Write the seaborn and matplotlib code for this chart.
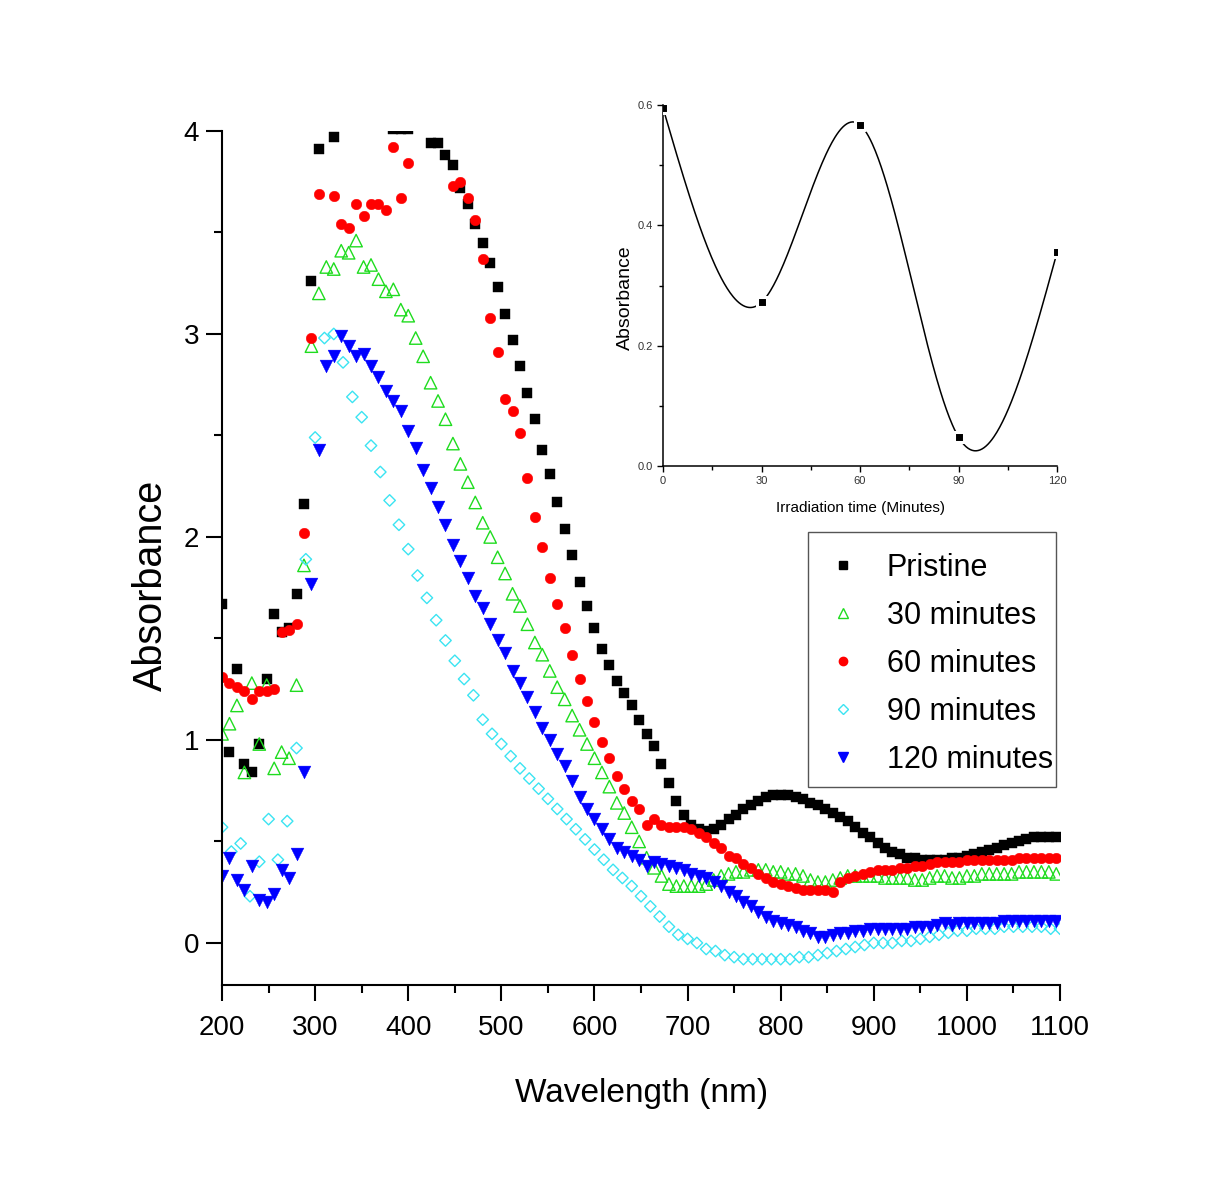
import numpy as np
import pandas as pd
import seaborn as sns
import matplotlib.pyplot as plt
from matplotlib.lines import Line2D
from matplotlib.patches import Rectangle
from matplotlib.ticker import MultipleLocator

nan = np.nan

# Longitudes de onda (muestreo cada 8 nm, la serie de 90 min cada 10 nm)
wl = list(range(200, 1097, 8))
wl_90 = list(range(200, 1101, 10))

pristine = [
    1.67, 0.94, 1.35, 0.88, 0.84, 0.98, 1.30, 1.62, 1.53, 1.55,   # 200-272
    1.72, 2.16, 3.26, 3.91, nan, 3.97, nan, nan, nan, nan,        # 280-352
    nan, nan, nan, 4.01, 4.01, 4.01, nan, 4.03, 3.94, 3.94,       # 360-432
    3.88, 3.83, 3.72, 3.64, 3.54, 3.45, 3.35, 3.23, 3.10, 2.97,   # 440-512
    2.84, 2.71, 2.58, 2.43, 2.31, 2.17, 2.04, 1.91, 1.78, 1.66,   # 520-592
    1.55, 1.45, 1.37, 1.29, 1.23, 1.17, 1.10, 1.03, 0.97, 0.88,   # 600-672
    0.79, 0.70, 0.63, 0.58, 0.56, 0.55, 0.56, 0.58, 0.61, 0.63,   # 680-752
    0.66, 0.68, 0.70, 0.72, 0.73, 0.73, 0.73, 0.72, 0.71, 0.69,   # 760-832
    0.68, 0.66, 0.64, 0.62, 0.60, 0.57, 0.54, 0.52, 0.49, 0.47,   # 840-912
    0.45, 0.44, 0.42, 0.42, 0.41, 0.41, 0.41, 0.41, 0.42, 0.42,   # 920-992
    0.43, 0.44, 0.45, 0.46, 0.47, 0.48, 0.49, 0.50, 0.51, 0.52,   # 1000-1072
    0.52, 0.52, 0.52,                                             # 1080-1096
]

min30 = [
    1.03, 1.08, 1.17, 0.84, 1.28, 0.98, 1.27, 0.86, 0.94, 0.91,
    1.27, 1.86, 2.94, 3.20, 3.33, 3.32, 3.41, 3.40, 3.46, 3.33,
    3.34, 3.27, 3.21, 3.22, 3.12, 3.09, 2.98, 2.89, 2.76, 2.67,
    2.58, 2.46, 2.36, 2.27, 2.17, 2.07, 2.00, 1.90, 1.82, 1.72,
    1.66, 1.57, 1.48, 1.42, 1.34, 1.26, 1.20, 1.12, 1.05, 0.98,
    0.91, 0.84, 0.77, 0.69, 0.64, 0.57, 0.50, 0.42, 0.37, 0.33,
    0.29, 0.28, 0.28, 0.28, 0.28, 0.29, 0.31, 0.33, 0.34, 0.35,
    0.35, 0.36, 0.36, 0.36, 0.35, 0.35, 0.34, 0.34, 0.33, 0.31,
    0.30, 0.30, 0.31, 0.32, 0.33, 0.33, 0.33, 0.33, 0.33, 0.32,
    0.32, 0.32, 0.32, 0.31, 0.31, 0.32, 0.33, 0.33, 0.32, 0.32,
    0.33, 0.33, 0.34, 0.34, 0.34, 0.34, 0.34, 0.35, 0.35, 0.35,
    0.35, 0.35, 0.34,
]

min60 = [
    1.31, 1.28, 1.26, 1.24, 1.20, 1.24, 1.24, 1.25, 1.53, 1.54,
    1.57, 2.02, 2.98, 3.69, nan, 3.68, 3.54, 3.52, 3.64, 3.58,
    3.64, 3.64, 3.61, 3.92, 3.67, 3.84, nan, nan, nan, nan,
    nan, 3.73, 3.75, 3.67, 3.56, 3.37, 3.08, 2.91, 2.68, 2.62,
    2.51, 2.29, 2.10, 1.95, 1.80, 1.67, 1.55, 1.42, 1.30, 1.19,
    1.09, 0.99, 0.91, 0.82, 0.76, 0.70, 0.66, 0.58, 0.61, 0.58,
    0.57, 0.57, 0.57, 0.56, 0.54, 0.52, 0.49, 0.47, 0.43, 0.42,
    0.39, 0.37, 0.34, 0.32, 0.30, 0.29, 0.28, 0.27, 0.26, 0.26,
    0.26, 0.26, 0.25, 0.30, 0.32, 0.33, 0.34, 0.35, 0.36, 0.36,
    0.36, 0.37, 0.37, 0.38, 0.38, 0.39, 0.40, 0.40, 0.40, 0.40,
    0.41, 0.41, 0.41, 0.41, 0.41, 0.41, 0.41, 0.42, 0.42, 0.42,
    0.42, 0.42, 0.42,
]

min90 = [
    0.57, 0.45, 0.49, 0.23, 0.40, 0.61, 0.41, 0.60, 0.96, 1.89,   # 200-290
    2.49, 2.98, 3.00, 2.86, 2.69, 2.59, 2.45, 2.32, 2.18, 2.06,   # 300-390
    1.94, 1.81, 1.70, 1.59, 1.49, 1.39, 1.30, 1.22, 1.10, 1.03,   # 400-490
    0.98, 0.92, 0.86, 0.81, 0.76, 0.71, 0.66, 0.61, 0.56, 0.51,   # 500-590
    0.46, 0.41, 0.36, 0.32, 0.28, 0.23, 0.18, 0.13, 0.08, 0.04,   # 600-690
    0.02, 0.00, -0.03, -0.04, -0.06, -0.07, -0.08, -0.08, -0.08, -0.08,
    -0.08, -0.08, -0.07, -0.07, -0.06, -0.05, -0.04, -0.03, -0.02, -0.01,
    0.00, 0.00, 0.00, 0.01, 0.01, 0.02, 0.03, 0.04, 0.05, 0.06,
    0.06, 0.07, 0.07, 0.07, 0.08, 0.08, 0.08, 0.08, 0.08, 0.07,
    0.07,
]

min120 = [
    0.33, 0.42, 0.31, 0.26, 0.38, 0.21, 0.20, 0.24, 0.36, 0.32,
    0.44, 0.84, 1.77, 2.43, 2.84, 2.89, 2.99, 2.94, 2.89, 2.90,
    2.84, 2.79, 2.72, 2.67, 2.62, 2.52, 2.44, 2.33, 2.24, 2.15,
    2.06, 1.96, 1.88, 1.80, 1.71, 1.65, 1.57, 1.49, 1.43, 1.34,
    1.28, 1.21, 1.14, 1.06, 1.00, 0.93, 0.87, 0.80, 0.72, 0.66,
    0.61, 0.56, 0.51, 0.47, 0.45, 0.43, 0.41, 0.38, 0.40, 0.39,
    0.38, 0.37, 0.36, 0.34, 0.33, 0.32, 0.30, 0.28, 0.25, 0.23,
    0.20, 0.18, 0.15, 0.13, 0.11, 0.10, 0.09, 0.08, 0.06, 0.05,
    0.03, 0.03, 0.04, 0.05, 0.05, 0.06, 0.06, 0.07, 0.07, 0.07,
    0.07, 0.07, 0.07, 0.08, 0.08, 0.08, 0.09, 0.10, 0.09, 0.10,
    0.10, 0.10, 0.10, 0.10, 0.10, 0.11, 0.11, 0.11, 0.11, 0.11,
    0.11, 0.11, 0.11,
]

# Inset: absorbancia vs tiempo de irradiacion
t_irr = [0, 30, 60, 90, 120]
abs_irr = [0.595, 0.272, 0.567, 0.048, 0.355]

sns.set_theme(style="ticks")
plt.rcParams["font.family"] = ["Liberation Sans", "DejaVu Sans"]
plt.rcParams["axes.edgecolor"] = "black"
plt.rcParams["xtick.color"] = "black"
plt.rcParams["ytick.color"] = "black"
plt.rcParams["text.color"] = "black"
plt.rcParams["axes.labelcolor"] = "black"

fig = plt.figure(figsize=(12.26, 11.8), dpi=100)
fig.patch.set_facecolor("white")
ax = fig.add_axes([0.1811, 0.1653, 0.6835, 0.7237])

series = [
    ("Pristine", wl, pristine, "s", "#000000", True, 52),
    ("30 minutes", wl, min30, "^", "#1fdc1f", False, 80),
    ("60 minutes", wl, min60, "o", "#ff0000", True, 58),
    ("90 minutes", wl_90, min90, "D", "#3be4f2", False, 34),
    ("120 minutes", wl, min120, "v", "#0000ff", True, 85),
]

handles = []
for label, x, y, m, c, filled, s in series:
    d = pd.DataFrame({"wavelength": x, "absorbance": y}).dropna()
    if filled:
        sns.scatterplot(data=d, x="wavelength", y="absorbance", marker=m, s=s,
                        color=c, edgecolor=c, linewidth=0.3, ax=ax, legend=False)
        handles.append(Line2D([], [], ls="none", marker=m, color=c, mec=c,
                              ms={"s": 5.5, "o": 6, "v": 7.5}[m], label=label))
    else:
        sns.scatterplot(data=d, x="wavelength", y="absorbance", marker=m, s=s,
                        color=c, facecolor="none", edgecolor=c, linewidth=1.0,
                        ax=ax, legend=False)
        handles.append(Line2D([], [], ls="none", marker=m, color=c, mfc="none",
                              mec=c, mew=1.0, ms={"^": 7, "D": 4.8}[m], label=label))

ax.set_xlim(200, 1100)
ax.set_ylim(-0.207, 4.0)
ax.xaxis.set_major_locator(MultipleLocator(100))
ax.xaxis.set_minor_locator(MultipleLocator(50))
ax.yaxis.set_major_locator(MultipleLocator(1))
ax.yaxis.set_minor_locator(MultipleLocator(0.5))
ax.tick_params(which="major", direction="out", length=11.5, width=1.5, labelsize=20)
ax.tick_params(which="minor", direction="out", length=5.5, width=1.5)
ax.tick_params(axis="x", which="both", bottom=True, pad=10)
ax.tick_params(axis="y", which="both", left=True, pad=5)
sns.despine(ax=ax)
for sp in ["left", "bottom"]:
    ax.spines[sp].set_linewidth(1.5)
ax.set_facecolor("white")

ax.set_xlabel("Wavelength (nm)", fontsize=24)
ax.set_ylabel("Absorbance", fontsize=28.5)
ax.xaxis.set_label_coords(0.501, -0.109)
ax.yaxis.set_label_coords(-0.062, 0.468)

# Leyenda: marco dibujado aparte para fijar su tamaño
fig.add_artist(Rectangle((808 / 1226, 1 - 787 / 1180), 248 / 1226, 255 / 1180,
                         transform=fig.transFigure, facecolor="none",
                         edgecolor="#555555", linewidth=1.0))
fig.legend(handles=handles, loc="upper left", bbox_to_anchor=(823 / 1226, 1 - 553 / 1180),
           bbox_transform=fig.transFigure, borderaxespad=0, borderpad=0, fontsize=22,
           frameon=False, handlelength=1.3, handletextpad=0.78, labelspacing=0.59)

# Inset
axin = fig.add_axes([0.5408, 0.6051, 0.3214, 0.3059])
axin.set_facecolor("none")


def natural_cubic(xk, yk, xs):
    xk = np.asarray(xk, float)
    yk = np.asarray(yk, float)
    n = len(xk)
    h = np.diff(xk)
    A = np.zeros((n, n))
    r = np.zeros(n)
    A[0, 0] = A[-1, -1] = 1.0
    for i in range(1, n - 1):
        A[i, i - 1] = h[i - 1]
        A[i, i] = 2 * (h[i - 1] + h[i])
        A[i, i + 1] = h[i]
        r[i] = 3 * ((yk[i + 1] - yk[i]) / h[i] - (yk[i] - yk[i - 1]) / h[i - 1])
    c = np.linalg.solve(A, r)
    b = (yk[1:] - yk[:-1]) / h - h * (2 * c[:-1] + c[1:]) / 3
    dd = (c[1:] - c[:-1]) / (3 * h)
    idx = np.clip(np.searchsorted(xk, xs) - 1, 0, n - 2)
    dx = xs - xk[idx]
    return yk[idx] + b[idx] * dx + c[idx] * dx ** 2 + dd[idx] * dx ** 3


t_fine = np.linspace(t_irr[0], t_irr[-1], 400)
sns.lineplot(x=t_fine, y=natural_cubic(t_irr, abs_irr, t_fine), ax=axin,
             color="black", linewidth=1.1)
sns.scatterplot(x=t_irr, y=abs_irr, ax=axin, marker="s", s=42, color="black",
                edgecolor="white", linewidth=2.2, legend=False, zorder=3)

axin.set_xlim(0, 120)
axin.set_ylim(0, 0.6)
axin.xaxis.set_major_locator(MultipleLocator(30))
axin.xaxis.set_minor_locator(MultipleLocator(15))
axin.yaxis.set_minor_locator(MultipleLocator(0.1))
axin.set_yticks([0.0, 0.2, 0.4, 0.6])
axin.set_yticklabels(["0.0", "0.2", "0.4", "0.6"])
axin.tick_params(which="major", direction="out", length=4, width=1.0, labelsize=8,
                 pad=3, labelcolor="#333333")
axin.tick_params(which="minor", direction="out", length=3, width=1.0)
axin.tick_params(axis="x", which="both", bottom=True)
axin.tick_params(axis="y", which="both", left=True)
sns.despine(ax=axin)
for sp in ["left", "bottom"]:
    axin.spines[sp].set_linewidth(1.1)
axin.set_xlabel("Irradiation time (Minutes)", fontsize=11)
axin.set_ylabel("Absorbance", fontsize=14)
axin.xaxis.set_label_coords(0.5, -0.097)
axin.yaxis.set_label_coords(-0.074, 0.465)

fig.savefig("out.png", dpi=100, facecolor="white")
